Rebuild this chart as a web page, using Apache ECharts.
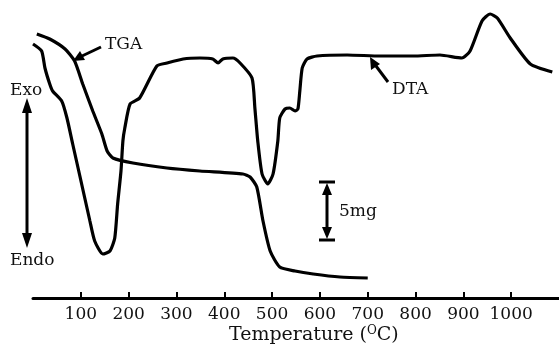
<!DOCTYPE html>
<html>
<head>
<meta charset="utf-8">
<script src="https://cdn.jsdelivr.net/npm/echarts@6/dist/echarts.min.js"></script>
<style>
html,body{margin:0;padding:0;background:#fff;}
#chart{width:559px;height:351px;}
</style>
</head>
<body>
<div id="chart"></div>
<script>
// Temperature (°C) and signal heights (arbitrary units)
const tgaTemp = [8,35,67,87,104,125,144,155,167,209,280,349,439,454,468,481,496,516,548,586,642,700];
const tgaVal  = [264,259,249,237,214,187,164,147,140,135,130,127,124,121,111,77,47,31,27,24,21,20];

const dtaTemp = [0,18,25,35,41,60,71,83,98,119,129,146,161,171,177,184,188,192,203,223,259,280,314,349,376,387,397,418,433,458,464,470,479,491,502,512,516,527,537,548,554,558,563,573,594,657,726,795,851,897,914,939,956,971,998,1040,1086];
const dtaVal  = [254,247,230,214,207,197,180,154,122,77,57,44,47,60,94,127,157,170,194,200,232,235,239,240,239,235,239,240,235,220,190,157,124,114,124,157,180,189,190,187,189,207,230,239,242,243,242,242,243,240,247,277,284,280,260,234,226];

const tickLabels = ['100','200','300','400','500','600','700','800','900','1000'];

const FONT = 'DejaVu Serif';
const chart = echarts.init(document.getElementById('chart'));
const zip = (a,b) => a.map((v,i)=>[v,b[i]]);

chart.setOption({
  animation:false,
  backgroundColor:'#fff',
  grid:{left:33,right:0,top:0,bottom:53},
  xAxis:{
    type:'value', min:0, max:1100, interval:100,
    axisLine:{show:true,lineStyle:{color:'#000',width:3}},
    axisTick:{show:true,inside:true,length:6,lineStyle:{color:'#000',width:2}},
    splitLine:{show:false},
    axisLabel:{
      color:'#111', fontFamily:FONT, fontSize:17, margin:8,
      showMinLabel:false, showMaxLabel:false,
      formatter:v => tickLabels.includes(String(v)) ? String(v) : ''
    }
  },
  yAxis:{type:'value',min:0,max:298,show:false},
  title:{
    text:'{a|Temperature (}{s|O}{a|C)}',
    left:224, top:320,
    textStyle:{fontWeight:'normal',rich:{
      a:{fontFamily:FONT,fontSize:19,fontWeight:'normal',color:'#111'},
      s:{fontFamily:FONT,fontSize:12,fontWeight:'normal',color:'#111',verticalAlign:'top',padding:[0,0,8,0]}
    }}
  },
  series:[
    {name:'TGA',type:'line',data:zip(tgaTemp,tgaVal),showSymbol:false,smooth:0.2,
     lineStyle:{color:'#000',width:3.2}},
    {name:'DTA',type:'line',data:zip(dtaTemp,dtaVal),showSymbol:false,smooth:0.2,
     lineStyle:{color:'#000',width:3.2}}
  ],
  graphic:[
    {type:'text',left:10,top:82,style:{text:'Exo',font:'17px "DejaVu Serif"',fill:'#111'}},
    {type:'text',left:10,top:252,style:{text:'Endo',font:'17px "DejaVu Serif"',fill:'#111'}},
    {type:'line',shape:{x1:27,y1:110,x2:27,y2:236},style:{stroke:'#000',lineWidth:3}},
    {type:'polygon',shape:{points:[[27,98],[22,113],[32,113]]},style:{fill:'#000'}},
    {type:'polygon',shape:{points:[[27,248],[22,233],[32,233]]},style:{fill:'#000'}},
    {type:'text',left:105,top:36,style:{text:'TGA',font:'17px "DejaVu Serif"',fill:'#111'}},
    {type:'line',shape:{x1:101,y1:47,x2:82,y2:56},style:{stroke:'#000',lineWidth:3}},
    {type:'polygon',shape:{points:[[73,61],[80,51],[85,60]]},style:{fill:'#000'}},
    {type:'text',left:392,top:81,style:{text:'DTA',font:'17px "DejaVu Serif"',fill:'#111'}},
    {type:'line',shape:{x1:388,y1:82,x2:376,y2:66},style:{stroke:'#000',lineWidth:3}},
    {type:'polygon',shape:{points:[[370,57],[371,70],[380,64]]},style:{fill:'#000'}},
    {type:'line',shape:{x1:327,y1:190,x2:327,y2:232},style:{stroke:'#000',lineWidth:3}},
    {type:'line',shape:{x1:319,y1:182,x2:335,y2:182},style:{stroke:'#000',lineWidth:3}},
    {type:'line',shape:{x1:319,y1:240,x2:335,y2:240},style:{stroke:'#000',lineWidth:3}},
    {type:'polygon',shape:{points:[[327,183],[322,195],[332,195]]},style:{fill:'#000'}},
    {type:'polygon',shape:{points:[[327,239],[322,227],[332,227]]},style:{fill:'#000'}},
    {type:'text',left:339,top:203,style:{text:'5mg',font:'17px "DejaVu Serif"',fill:'#111'}}
  ]
});
</script>
</body>
</html>
